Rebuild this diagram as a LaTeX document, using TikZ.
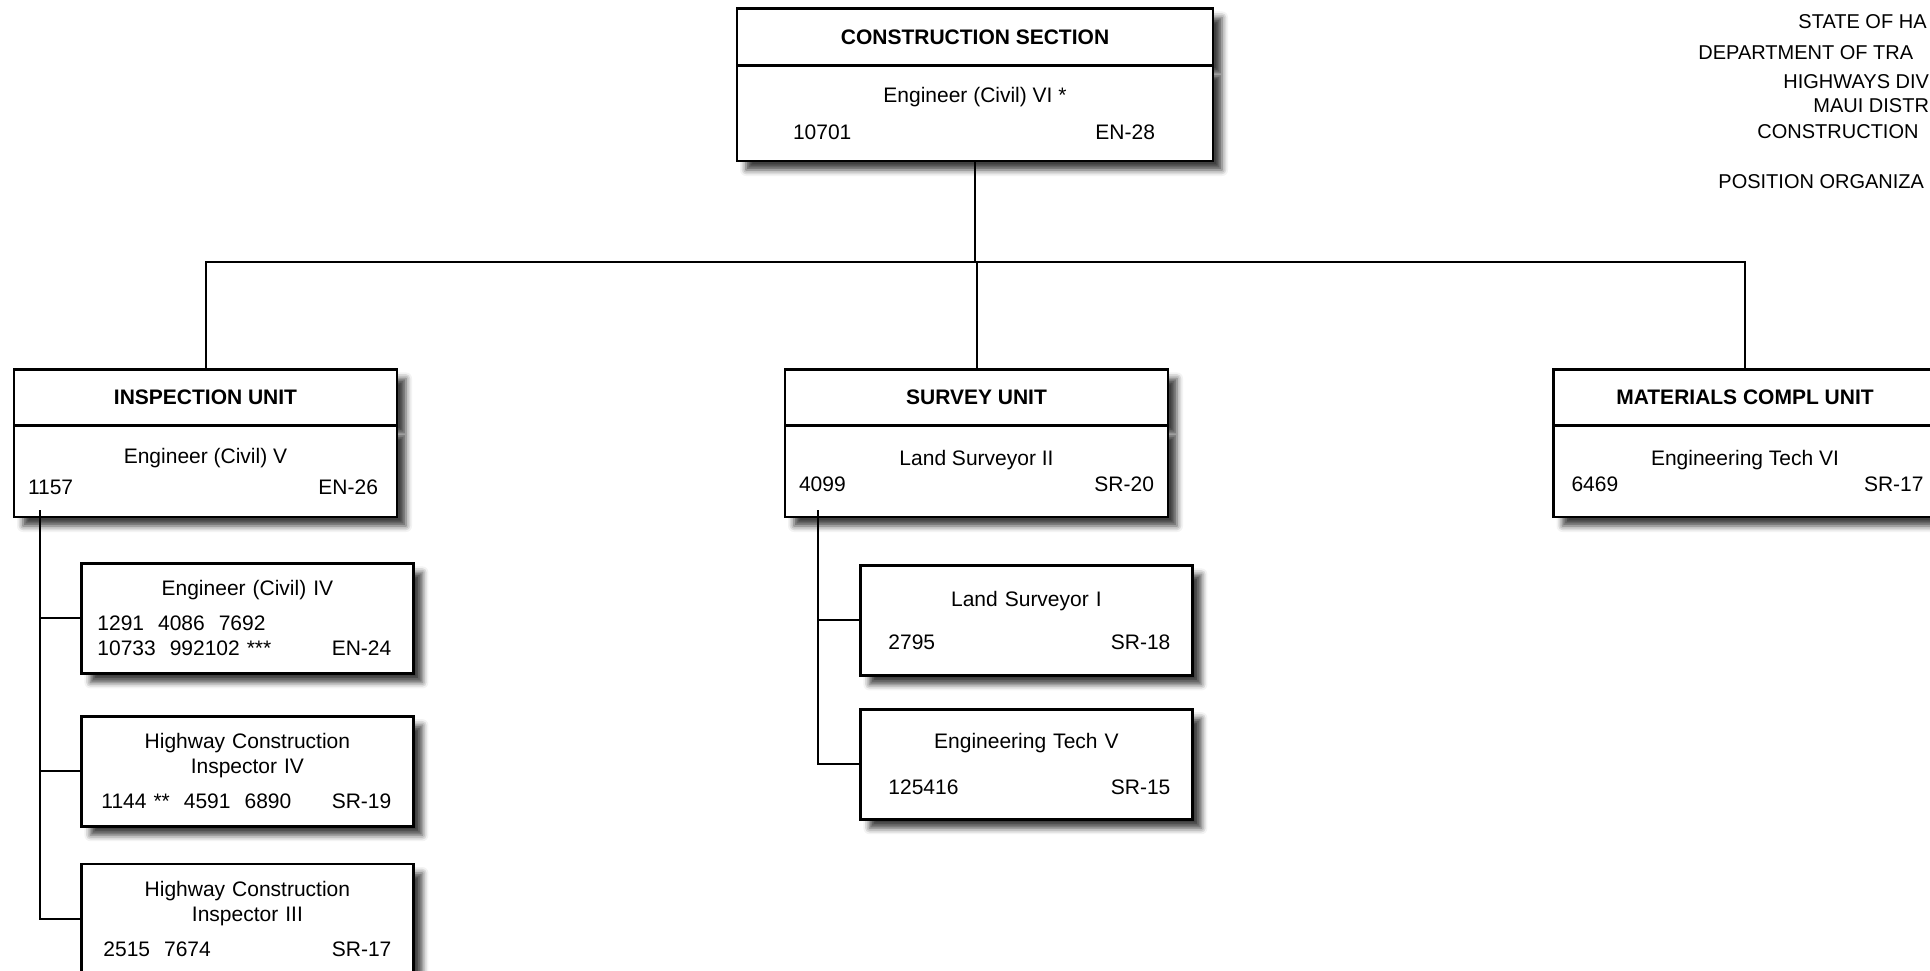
\documentclass[tikz,border=0pt]{standalone}
\usepackage{fontspec}
\setmainfont{Liberation Sans}
\usetikzlibrary{shapes.multipart,positioning,shadows.blur}

\begin{document}
\begin{tikzpicture}[x=0.5pt, y=-0.5pt, every node/.style={font=\fontsize{10.5}{12.5}\selectfont}]
    \tikzstyle{unitbox} = [rectangle split, rectangle split parts=2, draw=black, line width=1.4pt,
        fill=white, inner sep=0pt, anchor=north,
        blur shadow={shadow xshift=4.5pt, shadow yshift=-4.5pt, shadow blur radius=3pt, shadow opacity=75}]
    \tikzstyle{posbox} = [rectangle, draw=black, line width=1.4pt, fill=white,
        minimum width=166pt, minimum height=55pt, inner xsep=11pt, text width=144pt, align=center,
        blur shadow={shadow xshift=4.5pt, shadow yshift=-4.5pt, shadow blur radius=3pt, shadow opacity=75}]
    \tikzstyle{link} = [draw=black, line width=1pt]
    \tikzstyle{heading} = [anchor=west, inner sep=0pt, font=\fontsize{10}{12}\selectfont]
    \useasboundingbox (0,0) rectangle (1930,970);

    % title block, cut at the page edge
    \node (hdstate) [heading] at (1798,22) {STATE OF HA};
    \node (hddept) [heading] at (1698,53) {DEPARTMENT OF TRA};
    \node (hddiv) [heading] at (1783,82) {HIGHWAYS DIV};
    \node (hddist) [heading] at (1813,106) {MAUI DISTR};
    \node (hdsect) [heading] at (1757,132) {CONSTRUCTION};
    \node (hdchart) [heading] at (1718,182) {POSITION ORGANIZA};

    % section and units
    \node (sect) [unitbox] at (975,7) {\parbox[c][27pt][c]{238pt}{\centering\bfseries CONSTRUCTION SECTION}%
        \nodepart{two}\parbox[c][46.5pt][c]{238pt}{\centering Engineer (Civil) VI *\\[6pt]\hspace*{28pt}10701\hfill EN-28\hspace*{29pt}}};
    \node (insp) [unitbox] at (205.5,368) {\parbox[c][26.5pt][c]{191.5pt}{\centering\bfseries INSPECTION UNIT}%
        \nodepart{two}\parbox[c][44.5pt][c]{191.5pt}{\centering Engineer (Civil) V\\[3pt]\hspace*{7pt}1157\hfill EN-26\hspace*{9.5pt}}};
    \node (surv) [unitbox] at (976.5,368) {\parbox[c][26.5pt][c]{191.5pt}{\centering\bfseries SURVEY UNIT}%
        \nodepart{two}\parbox[c][44.5pt][c]{191.5pt}{\centering Land Surveyor II\\[0.5pt]\hspace*{7pt}4099\hfill SR-20\hspace*{7pt}}};
    \node (mater) [unitbox] at (1745,368) {\parbox[c][26.5pt][c]{191.5pt}{\centering\bfseries MATERIALS COMPL UNIT}%
        \nodepart{two}\parbox[c][44.5pt][c]{191.5pt}{\centering Engineering Tech VI\\[0.5pt]\hspace*{9pt}6469\hfill SR-17\hspace*{6.5pt}}};

    % positions under the units
    \node (eng4) [posbox, anchor=north west] at (80,562) {Engineer (Civil) IV\\[5pt]
        \hspace*{-3pt}1291~~4086~~7692\hfill\null\\\hspace*{-3pt}10733~~992102 ***\hfill EN-24\hspace*{1.5pt}};
    \node (hci4) [posbox, below=20pt of eng4] {Highway Construction\\Inspector IV\\[5pt]
        \hspace*{-1pt}1144 **~~4591~~6890\hfill SR-19\hspace*{2pt}};
    \node (hci3) [posbox, below=17.5pt of hci4] {Highway Construction\\Inspector III\\[5pt]
        2515~~7674\hfill SR-17\hspace*{1.5pt}};
    \node (lsurv1) [posbox, anchor=north west] at (859,564) {Land Surveyor I\\[9pt]
        \hspace*{3pt}2795\hfill SR-18\hspace*{1pt}};
    \node (etech5) [posbox, below=15.5pt of lsurv1] {Engineering Tech V\\[10.5pt]
        \hspace*{3pt}125416\hfill SR-15\hspace*{1pt}};

    % connectors
    \coordinate (bus) at (975,262);
    \coordinate (inspdrop) at (40,510);
    \coordinate (survdrop) at (818,510);
    \draw [link] (sect.south) -- (bus);
    \draw [link] (insp.north) |- (bus) -| (mater.north);
    \draw [link] (surv.north |- bus) -- (surv.north);
    \draw [link] (inspdrop) |- (eng4.west);
    \draw [link] (inspdrop) |- (hci4.west);
    \draw [link] (inspdrop) |- (hci3.west);
    \draw [link] (survdrop) |- (lsurv1.west);
    \draw [link] (survdrop) |- (etech5.west);
\end{tikzpicture}
\end{document}
